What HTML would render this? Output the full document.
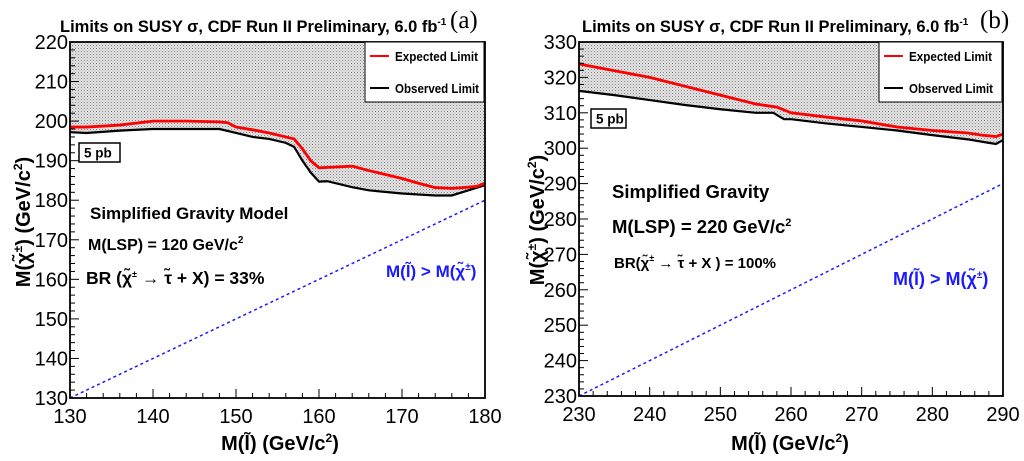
<!DOCTYPE html>
<html><head><meta charset="utf-8">
<style>
html,body{margin:0;padding:0;background:#fff;}
svg{display:block;font-family:"Liberation Sans",sans-serif;}
</style></head>
<body>
<svg id="root" width="1024" height="461" viewBox="0 0 1024 461" xmlns="http://www.w3.org/2000/svg">
<defs>
<pattern id="dots" width="3" height="3" patternUnits="userSpaceOnUse">
<rect width="3" height="3" fill="#e4e4e4"/>
<rect width="1" height="1" fill="#808080"/>
<rect x="1.5" y="1.5" width="1" height="1" fill="#a8a8a8"/>
</pattern>
</defs>
</svg>
<script>
// Panel (a) data
const aX = [130,132,136,140,144,148,149,150,152,154,156,157,158,159,160,162,164,166,170,172,174,176,178,179,180];
const aExp = [198.5,198.5,199,200,200,199.8,199.6,198.5,197.8,197,196,195.5,193,190,188.2,188.4,188.6,187.5,185.5,184.3,183.2,183,183.3,183.5,184.3];
const aObsX = [130,132,136,140,148,150,152,154,156,157,158,159,160,161,164,166,170,174,176,178,180];
const aObs = [197.2,197,197.6,198,198,197,196,195.5,194.5,193.5,190,187,184.7,184.8,183.3,182.5,181.7,181.2,181.2,182.5,183.8];
const aXTicks = [130,140,150,160,170,180];
const aYTicks = [130,140,150,160,170,180,190,200,210,220];
// Panel (b) data
const bX = [230,240,250,255,258,260,265,270,275,280,285,287,289,290];
const bExp = [323.8,320,315,312.5,311.6,310,308.8,307.7,306,305,304.3,303.7,303.3,304];
const bObsX = [230,235,240,245,250,255,257.5,259,260,265,270,275,280,285,288,289,290];
const bObs = [316.2,315,313.6,312.2,311,310,310,308.2,308.2,307,306,305,303.7,302.5,301.5,301.2,302.3];
const bXTicks = [230,240,250,260,270,280,290];
const bYTicks = [230,240,250,260,270,280,290,300,310,320,330];

const NS = "http://www.w3.org/2000/svg";
const root = document.getElementById('root');
function mk(tag, attrs, parent){
  const e = document.createElementNS(NS, tag);
  for (const k in attrs) e.setAttribute(k, attrs[k]);
  (parent||root).appendChild(e);
  return e;
}
function txt(x,y,s,size,parent,extra){
  const t = mk('text',Object.assign({x:x,y:y,'font-size':size},extra||{}),parent);
  t.innerHTML = s;
  return t;
}

function panel(cfg){
  const g = mk('g',{});
  
  
  const sx = v => cfg.L + (v - cfg.xmin) / (cfg.xmax - cfg.xmin) * (cfg.R - cfg.L);
  const sy = v => cfg.B - (v - cfg.ymin) / (cfg.ymax - cfg.ymin) * (cfg.B - cfg.T);
  let d = 'M' + sx(cfg.obsX[0]) + ',' + sy(cfg.ymax);
  cfg.obsX.forEach((x,i)=>{ d += ' L' + sx(x) + ',' + sy(cfg.obs[i]); });
  d += ' L' + sx(cfg.obsX[cfg.obsX.length-1]) + ',' + sy(cfg.ymax) + ' Z';
  const sh = mk('path',{d:d,fill:'url(#dots)'},g);
  
  
  const diag = mk('line',{x1:sx(cfg.xmin),y1:sy(cfg.xmin),x2:sx(cfg.xmax),y2:sy(cfg.xmax),stroke:'#1a1aff','stroke-width':1.5,'stroke-dasharray':'3,3'},g);
  
  
  const pts = (xs,ys)=>xs.map((x,i)=>sx(x)+','+sy(ys[i])).join(' ');
  const obs = mk('polyline',{points:pts(cfg.obsX,cfg.obs),fill:'none',stroke:'#000','stroke-width':2.2},g);
  
  
  const ex = mk('polyline',{points:pts(cfg.expX,cfg.exp),fill:'none',stroke:'#ff0000','stroke-width':2.8},g);
  
  
  const fr = mk('rect',{x:cfg.L,y:cfg.T,width:cfg.R-cfg.L,height:cfg.B-cfg.T,fill:'none',stroke:'#000','stroke-width':1.8},g);
  
  
  const xt = mk('g',{},g);
  
  
  for (let v = cfg.xmin; v <= cfg.xmax + 1e-9; v += 2){
    const major = cfg.xTicks.includes(v);
    mk('line',{x1:sx(v),y1:cfg.B,x2:sx(v),y2:cfg.B-(major?9:5),stroke:'#000','stroke-width':1},xt);
  }
  cfg.xTicks.forEach(v=>{
    const t = txt(sx(v), cfg.B+25, v, 20, xt, {'text-anchor':'middle'});
    
    
  });
  const yt = mk('g',{},g);
  
  
  for (let v = cfg.ymin; v <= cfg.ymax + 1e-9; v += 2){
    const major = cfg.yTicks.includes(v);
    mk('line',{x1:cfg.L,y1:sy(v),x2:cfg.L+(major?9:5),y2:sy(v),stroke:'#000','stroke-width':1},yt);
  }
  cfg.yTicks.forEach(v=>{
    const t = txt(cfg.L-2, sy(v)+7, v, 20, yt, {'text-anchor':'end'});
    
    
  });
  const lg = mk('g',{},g);
  
  
  mk('rect',{x:cfg.leg[0],y:cfg.T,width:cfg.leg[1],height:60,fill:'#fff',stroke:'#000','stroke-width':1},lg);
  mk('line',{x1:cfg.leg[0]+5,y1:cfg.T+14,x2:cfg.leg[0]+24,y2:cfg.T+14,stroke:'#ff0000','stroke-width':2},lg);
  const l1 = txt(cfg.leg[0]+30, cfg.T+19, 'Expected Limit', 12.5, lg, {'font-weight':'bold',textLength:83,lengthAdjust:'spacingAndGlyphs'});
  
  
  mk('line',{x1:cfg.leg[0]+5,y1:cfg.T+46,x2:cfg.leg[0]+24,y2:cfg.T+46,stroke:'#000','stroke-width':2},lg);
  const l2 = txt(cfg.leg[0]+30, cfg.T+51, 'Observed Limit', 12.5, lg, {'font-weight':'bold',textLength:84,lengthAdjust:'spacingAndGlyphs'});
  
  
  const pb = mk('g',{},g);
  
  
  mk('rect',{x:cfg.pb[0],y:cfg.pb[1],width:cfg.pb[2],height:19,fill:'#fff',stroke:'#000','stroke-width':1.5},pb);
  txt(cfg.pb[0]+5, cfg.pb[1]+14.5, '5 pb', 13.5, pb, {'font-weight':'bold'});
  return {sx, sy, g};
}

panel({name:'panel-a',L:70,R:485,T:42,B:398,xmin:130,xmax:180,ymin:130,ymax:220,
  expX:aX,exp:aExp,obsX:aObsX,obs:aObs,xTicks:aXTicks,yTicks:aYTicks,leg:[365,119],pb:[79,143,41]});
panel({name:'panel-b',L:579,R:1003,T:42,B:396,xmin:230,xmax:290,ymin:230,ymax:330,
  expX:bX,exp:bExp,obsX:bObsX,obs:bObs,xTicks:bXTicks,yTicks:bYTicks,leg:[879,123],pb:[591,109,35]});

function label(x,y,html,size,name,extra){
  const t = txt(x,y,html,size,root,extra);
  
  
  return t;
}
const B = {'font-weight':'bold'};
label(60,32,'Limits on SUSY σ,  CDF Run II Preliminary, 6.0 fb<tspan dy="-7" font-size="10">-1</tspan>',16.5,'title-a',B);
label(450,28,'(a)',25,'panel-label-a',{'font-family':'"Liberation Serif",serif'});
label(90,219,'Simplified Gravity Model',17,'model-label-a',B);
label(88,250,'M(LSP) = 120 GeV/c<tspan dy="-7" font-size="10">2</tspan>',16,'lsp-label-a',B);
label(86,284,'BR (χ̃<tspan dy="-7" font-size="9">±</tspan><tspan dy="7"> → τ̃ + X) = 33%</tspan>',17.5,'br-label-a',B);
label(386,277,'M(l̃) &gt; M(χ̃<tspan dy="-7" font-size="10">±</tspan><tspan dy="7">)</tspan>',17,'region-label-a',{'font-weight':'bold',fill:'#1a1aff'});
label(280,450,'M(l̃) (GeV/c<tspan dy="-8" font-size="12">2</tspan><tspan dy="8">)</tspan>',20,'x-axis-title-a',{'font-weight':'bold','text-anchor':'middle'});
label(0,0,'M(χ̃<tspan dy="-8" font-size="12">±</tspan><tspan dy="8">) (GeV/c</tspan><tspan dy="-8" font-size="12">2</tspan><tspan dy="8">)</tspan>',20,'y-axis-title-a',{'font-weight':'bold','text-anchor':'middle',transform:'translate(30,222) rotate(-90)'});
label(582,32,'Limits on SUSY σ,  CDF Run II Preliminary, 6.0 fb<tspan dy="-7" font-size="10">-1</tspan>',16.5,'title-b',B);
label(980,28,'(b)',25,'panel-label-b',{'font-family':'"Liberation Serif",serif'});
label(612,198,'Simplified Gravity',18.5,'model-label-b',B);
label(612,233,'M(LSP) = 220 GeV/c<tspan dy="-7" font-size="11">2</tspan>',18.5,'lsp-label-b',B);
label(614,268,'BR(χ̃<tspan dy="-7" font-size="9">±</tspan><tspan dy="7"> → τ̃ + X ) = 100%</tspan>',15,'br-label-b',B);
label(893,285,'M(l̃) &gt; M(χ̃<tspan dy="-7" font-size="10">±</tspan><tspan dy="7">)</tspan>',18,'region-label-b',{'font-weight':'bold',fill:'#1a1aff'});
label(790,450,'M(l̃) (GeV/c<tspan dy="-8" font-size="12">2</tspan><tspan dy="8">)</tspan>',20,'x-axis-title-b',{'font-weight':'bold','text-anchor':'middle'});
label(0,0,'M(χ̃<tspan dy="-8" font-size="12">±</tspan><tspan dy="8">) (GeV/c</tspan><tspan dy="-8" font-size="12">2</tspan><tspan dy="8">)</tspan>',20,'y-axis-title-b',{'font-weight':'bold','text-anchor':'middle',transform:'translate(544,220) rotate(-90)'});
</script>
</body></html>
